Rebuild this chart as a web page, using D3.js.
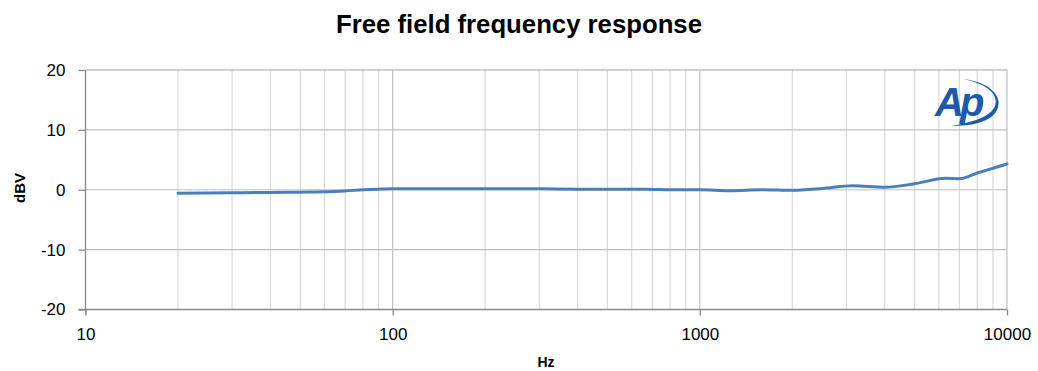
<!DOCTYPE html>
<html>
<head>
<meta charset="utf-8">
<script src="https://cdn.jsdelivr.net/npm/d3@7"></script>
<style>
  body { margin: 0; background: #fff; }
  svg { display: block; font-family: "Liberation Sans", Arial, sans-serif; }
</style>
</head>
<body>
<svg id="chart" width="1038" height="371"></svg>
<script>
// frequency (Hz) and level (dBV)
const freqs = [20, 30, 40, 50, 60, 70, 80, 90, 100, 200, 300, 400, 500, 600, 700, 800, 1000,
  1250, 1600, 2000, 2500, 3150, 4000, 5000, 6300, 7000, 8000, 9000, 10000]
const levels = [-0.6, -0.5, -0.45, -0.4, -0.35, -0.2, 0, 0.1, 0.15, 0.15, 0.15, 0.1, 0.1, 0.1, 0.05, 0, 0,
  -0.15, 0, -0.1, 0.2, 0.65, 0.4, 1.0, 1.9, 1.85, 2.8, 3.6, 4.3]
const yTicks = [-20, -10, 0, 10, 20]
const xTicks = [10, 100, 1000, 10000]

const plotLeft = 85.5, plotRight = 1007, plotTop = 70, plotBottom = 309.5

const svg = d3.select('#chart')

const x = d3.scaleLog().domain([10, 10000]).range([plotLeft, plotRight])
const y = d3.scaleLinear().domain([-20, 20]).range([plotBottom, plotTop])

// minor vertical gridlines
const minor = []
for (let dec = 10; dec < 10000; dec *= 10) {
  for (let k = 2; k <= 9; k++) minor.push(dec * k)
}
svg.append('g').selectAll('line')
  .data(minor)
  .enter().append('line')
  .attr('x1', d => x(d)).attr('x2', d => x(d))
  .attr('y1', plotTop).attr('y2', plotBottom)
  .attr('stroke', '#d9d9d9').attr('stroke-width', 1.2)

// major vertical gridlines
svg.append('g').selectAll('line')
  .data(xTicks.slice(1))
  .enter().append('line')
  .attr('x1', d => x(d)).attr('x2', d => x(d))
  .attr('y1', plotTop).attr('y2', plotBottom)
  .attr('stroke', '#bfbfbf').attr('stroke-width', 1.2)

// horizontal gridlines
svg.append('g').selectAll('line')
  .data(yTicks.slice(1))
  .enter().append('line')
  .attr('x1', plotLeft).attr('x2', plotRight)
  .attr('y1', d => y(d)).attr('y2', d => y(d))
  .attr('stroke', '#bfbfbf').attr('stroke-width', 1.2)

// logo
const logo = svg.append('g').attr('transform', 'translate(933,78)')
logo.append('text')
  .attr('x', 2).attr('y', 38)
  .attr('font-size', 40)
  .attr('font-style', 'italic')
  .attr('font-weight', 'bold')
  .attr('letter-spacing', -4)
  .attr('fill', '#1e5aa8')
  .text('Ap')
logo.append('path')
  .attr('d', 'M30,1 C58,4 72,20 63,34 C56,44 40,48 18,48 C42,44 58,38 62,28 C66,16 54,6 30,1 Z')
  .attr('fill', '#1e5aa8')

// axes
const axisColor = '#898989'
const fmt = d => String(d)
const yAxis = svg.append('g')
  .attr('transform', `translate(${plotLeft},0)`)
  .call(d3.axisLeft(y).tickValues(yTicks).tickFormat(fmt).tickSize(7).tickPadding(13))
yAxis.select('.domain').attr('stroke', axisColor).attr('stroke-width', 1.3)
  .attr('d', `M0,${plotTop}V${plotBottom + 5}`)
yAxis.selectAll('.tick line').attr('stroke', axisColor).attr('stroke-width', 1.3)
yAxis.selectAll('.tick text')
  .attr('font-size', 17).attr('fill', '#000')
  .attr('font-family', '"Liberation Sans", Arial, sans-serif')

const xAxis = svg.append('g')
  .attr('transform', `translate(0,${plotBottom})`)
  .call(d3.axisBottom(x).tickValues(xTicks).tickFormat(fmt).tickSize(6).tickPadding(12))
xAxis.select('.domain').attr('stroke', axisColor).attr('stroke-width', 1.3)
  .attr('d', `M${plotLeft - 7},0H${plotRight}`)
xAxis.selectAll('.tick line').attr('stroke', axisColor).attr('stroke-width', 1.3)
xAxis.selectAll('.tick text')
  .attr('font-size', 17).attr('fill', '#000')
  .attr('font-family', '"Liberation Sans", Arial, sans-serif')

// top line of frame
svg.append('line')
  .attr('x1', plotLeft).attr('x2', plotRight)
  .attr('y1', plotTop).attr('y2', plotTop)
  .attr('stroke', '#bfbfbf').attr('stroke-width', 1.2)

// response curve
const line = d3.line()
  .x((d, i) => x(freqs[i]))
  .y(d => y(d))
  .curve(d3.curveMonotoneX)

svg.append('path')
  .datum(levels)
  .attr('d', line)
  .attr('fill', 'none')
  .attr('stroke', '#4a7ebb')
  .attr('stroke-width', 3)
  .attr('stroke-linecap', 'round')

// titles
svg.append('text')
  .attr('x', 519).attr('y', 33)
  .attr('text-anchor', 'middle')
  .attr('font-size', 25)
  .attr('font-weight', 'bold')
  .attr('textLength', 366)
  .attr('lengthAdjust', 'spacingAndGlyphs')
  .attr('fill', '#000')
  .text('Free field frequency response')

svg.append('text')
  .attr('x', 546).attr('y', 367)
  .attr('text-anchor', 'middle')
  .attr('font-size', 14)
  .attr('font-weight', 'bold')
  .text('Hz')

svg.append('text')
  .attr('transform', 'translate(25,188) rotate(-90)')
  .attr('text-anchor', 'middle')
  .attr('font-size', 15)
  .attr('font-weight', 'bold')
  .text('dBV')
</script>
</body>
</html>
